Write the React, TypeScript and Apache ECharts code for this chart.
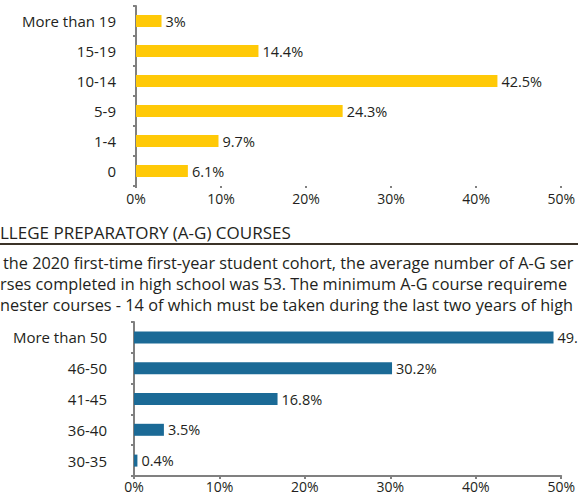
import React, { useEffect, useRef } from "react";
import * as echarts from "echarts";

const topCategories = ["More than 19", "15-19", "10-14", "5-9", "1-4", "0"];
const topValues = [3, 14.4, 42.5, 24.3, 9.7, 6.1];
const bottomCategories = ["More than 50", "46-50", "41-45", "36-40", "30-35"];
const bottomValues = [49.1, 30.2, 16.8, 3.5, 0.4];
const heading = "LLEGE PREPARATORY (A-G) COURSES";
const paragraphLines = [
  "the 2020 first-time first-year student cohort, the average number of A-G ser",
  "rses completed in high school was 53. The minimum A-G course requireme",
  "nester courses - 14 of which must be taken during the last two years of high",
];

const FONT = "'Open Sans'";
const TEXT = "#231f20";
const AXIS = "#808080";

export default function App() {
  const ref = useRef<HTMLDivElement>(null);
  useEffect(() => {
    if (!ref.current) return;
    const chart = echarts.init(ref.current, null, { renderer: "svg" });
    const valueAxis = (gridIndex: number, showLine: boolean) => ({
      type: "value" as const,
      gridIndex,
      min: 0,
      max: 50,
      interval: 10,
      splitLine: { show: false },
      axisLine: { show: showLine, lineStyle: { color: AXIS, width: 2 } },
      axisTick: { show: true, length: showLine ? 3 : 2, lineStyle: { color: AXIS, width: 2 } },
      axisLabel: {
        formatter: (v: number) => v + "%",
        fontFamily: FONT,
        fontSize: 14,
        lineHeight: 14,
        color: TEXT,
        margin: showLine ? 3 : 5,
      },
    });
    const catAxis = (gridIndex: number, data: string[], margin: number) => ({
      type: "category" as const,
      gridIndex,
      data,
      inverse: true,
      axisLine: { show: true, lineStyle: { color: AXIS, width: 2 } },
      axisTick: { show: true, length: 3, lineStyle: { color: AXIS, width: 2 } },
      axisLabel: { fontFamily: FONT, fontSize: 15, color: TEXT, margin },
    });
    const labelStyle = {
      show: true,
      position: "right" as const,
      distance: 4,
      formatter: (p: any) => p.value + "%",
      fontFamily: FONT,
      fontSize: 14.5,
      color: TEXT,
    };
    chart.setOption({
      animation: false,
      backgroundColor: "#ffffff",
      grid: [
        { left: 136, right: 12, top: 6, height: 180 },
        { left: 134, right: 13, top: 322, height: 154 },
      ],
      xAxis: [valueAxis(0, false), valueAxis(1, true)],
      yAxis: [catAxis(0, topCategories, 20), catAxis(1, bottomCategories, 27)],
      series: [
        {
          type: "bar",
          xAxisIndex: 0,
          yAxisIndex: 0,
          data: topValues,
          barWidth: 12,
          itemStyle: { color: "#ffc907" },
          label: labelStyle,
        },
        {
          type: "bar",
          xAxisIndex: 1,
          yAxisIndex: 1,
          data: bottomValues,
          barWidth: 12,
          itemStyle: { color: "#1b6a96" },
          label: labelStyle,
        },
      ],
      graphic: [
        {
          type: "text",
          x: 0,
          y: 232,
          style: {
            text: heading,
            fontFamily: FONT,
            fontSize: 17,
            fill: TEXT,
            textVerticalAlign: "middle",
          },
        },
        {
          type: "line",
          shape: { x1: 0, y1: 244, x2: 578, y2: 244 },
          style: { stroke: "#3b3228", lineWidth: 2 },
        },
        ...paragraphLines.map((t, i) => ({
          type: "text",
          x: i === 0 ? 3 : 0,
          y: 263 + i * 21,
          style: {
            text: t,
            fontFamily: FONT,
            fontSize: 16.3,
            fill: TEXT,
            textVerticalAlign: "middle",
          },
        })),
      ],
    });
    return () => chart.dispose();
  }, []);
  return (
    <div
      ref={ref}
      style={{ position: "absolute", left: 0, top: 0, width: 578, height: 496 }}
    />
  );
}
